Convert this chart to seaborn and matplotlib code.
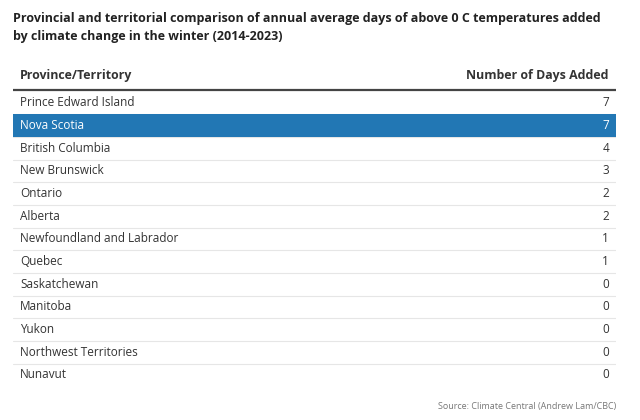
import matplotlib
matplotlib.use("Agg")
import matplotlib.pyplot as plt
import seaborn as sns

# Table data
provinces = [
    "Prince Edward Island", "Nova Scotia", "British Columbia", "New Brunswick",
    "Ontario", "Alberta", "Newfoundland and Labrador", "Quebec",
    "Saskatchewan", "Manitoba", "Yukon", "Northwest Territories", "Nunavut",
]
days_added = [7, 7, 4, 3, 2, 2, 1, 1, 0, 0, 0, 0, 0]
highlight = "Nova Scotia"

title = ("Provincial and territorial comparison of annual average days of above 0 C temperatures added\n"
         "by climate change in the winter (2014-2023)")
col_headers = ["Province/Territory", "Number of Days Added"]
source = "Source: Climate Central (Andrew Lam/CBC)"

sns.set_theme(style="white")
plt.rcParams["font.family"] = ["Open Sans", "DejaVu Sans"]

fig = plt.figure(figsize=(6.4, 4.2), dpi=100)
ax = fig.add_axes([13 / 640, 1 - 388.6 / 420, 603 / 640, (386.6 - 60) / 420])
ax.set_xlim(0, 1)
ax.set_ylim(12.6, -1.8)
ax.axis("off")

pad = 7 / 603
text_color = "#333333"

# header
ax.text(pad, -1.19, col_headers[0], ha="left", va="center", fontsize=8.9,
        fontweight="bold", color=text_color)
ax.text(1 - pad, -1.19, col_headers[1], ha="right", va="center", fontsize=8.9,
        fontweight="bold", color=text_color)
ax.plot([0, 1], [-0.58, -0.58], color="#444444", lw=1.6, solid_capstyle="butt")

# rows
for i, (name, val) in enumerate(zip(provinces, days_added)):
    if name == highlight:
        ax.axhspan(i - 0.5, i + 0.5, color="#2277b4", lw=0)
        color = "white"
    else:
        color = text_color
    if i < len(provinces) - 1:
        ax.plot([0, 1], [i + 0.5, i + 0.5], color="#e6e6e6", lw=0.8, zorder=0)
    ax.text(pad, i, name, ha="left", va="center", fontsize=8.5, color=color)
    ax.text(1 - pad, i, str(val), ha="right", va="center", fontsize=8.5, color=color)

fig.text(13 / 640, 1 - 12 / 420, title, ha="left", va="top", fontsize=9,
         fontweight="bold", color="#222222", linespacing=1.5)
fig.text(616 / 640, 1 - 407 / 420, source, ha="right", va="center", fontsize=6.5,
         color="#777777")

fig.savefig("out.png", dpi=100, facecolor="white")
